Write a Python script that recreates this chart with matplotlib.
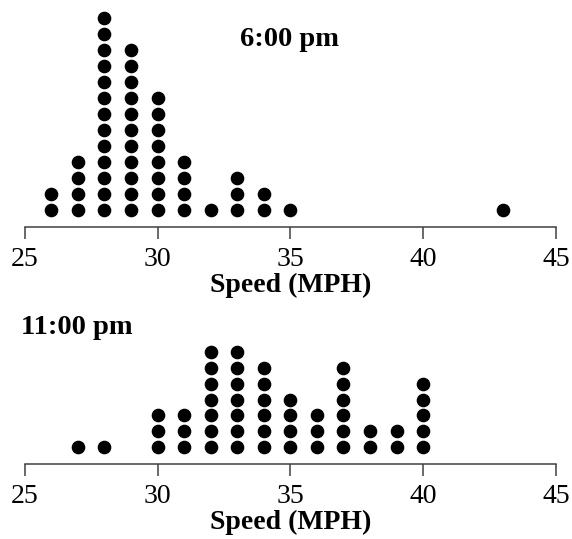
import matplotlib.pyplot as plt

plt.rcParams['font.family'] = ['Liberation Serif', 'DejaVu Serif']

# dot counts per speed (MPH)
speeds_6pm = [26, 27, 28, 29, 30, 31, 32, 33, 34, 35, 43]
counts_6pm = [2, 4, 13, 11, 8, 4, 1, 3, 2, 1, 1]

speeds_11pm = [27, 28, 30, 31, 32, 33, 34, 35, 36, 37, 38, 39, 40]
counts_11pm = [1, 1, 3, 3, 7, 7, 6, 4, 3, 6, 2, 2, 5]

ticks = [25, 30, 35, 40, 45]

W, H = 572, 539
fig = plt.figure(figsize=(W / 100, H / 100), dpi=100)


def dotplot(ax, speeds, counts):
    xs, ys = [], []
    for s, c in zip(speeds, counts):
        for k in range(c):
            xs.append(s)
            ys.append(k)
    ax.plot(xs, ys, 'o', color='black', markersize=8.8, clip_on=False)
    ax.set_xlim(25, 45)
    ax.set_xticks(ticks)
    ax.set_yticks([])
    for side in ['left', 'right', 'top']:
        ax.spines[side].set_visible(False)
    ax.spines['bottom'].set_color('#404040')
    ax.spines['bottom'].set_linewidth(1.1)
    ax.tick_params(axis='x', direction='out', length=8.6, width=1.1,
                   color='#404040', labelsize=20, pad=5.5)
    ax.set_xlabel('Speed (MPH)', fontsize=20, fontweight='bold', labelpad=1)
    ax.patch.set_visible(False)


# top panel: spine at pixel row 227, lowest dot at 210, 16 px per dot
ax1 = fig.add_axes([24.7 / W, 1 - 227 / H, 531.3 / W, 217 / H])
dotplot(ax1, speeds_6pm, counts_6pm)
ax1.set_ylim(-17 / 16, 200 / 16)
fig.text(289 / W, 1 - 40 / H, '6:00 pm', fontsize=20.5, fontweight='bold',
         ha='center', va='center')

# bottom panel: spine at pixel row 464, lowest dot at 447
ax2 = fig.add_axes([24.7 / W, 1 - 464 / H, 531.3 / W, 124 / H])
dotplot(ax2, speeds_11pm, counts_11pm)
ax2.set_ylim(-17 / 15.8, 107 / 15.8)
fig.text(21 / W, 1 - 328 / H, '11:00 pm', fontsize=20.5, fontweight='bold',
         ha='left', va='center')

fig.savefig('out.png', dpi=100)
